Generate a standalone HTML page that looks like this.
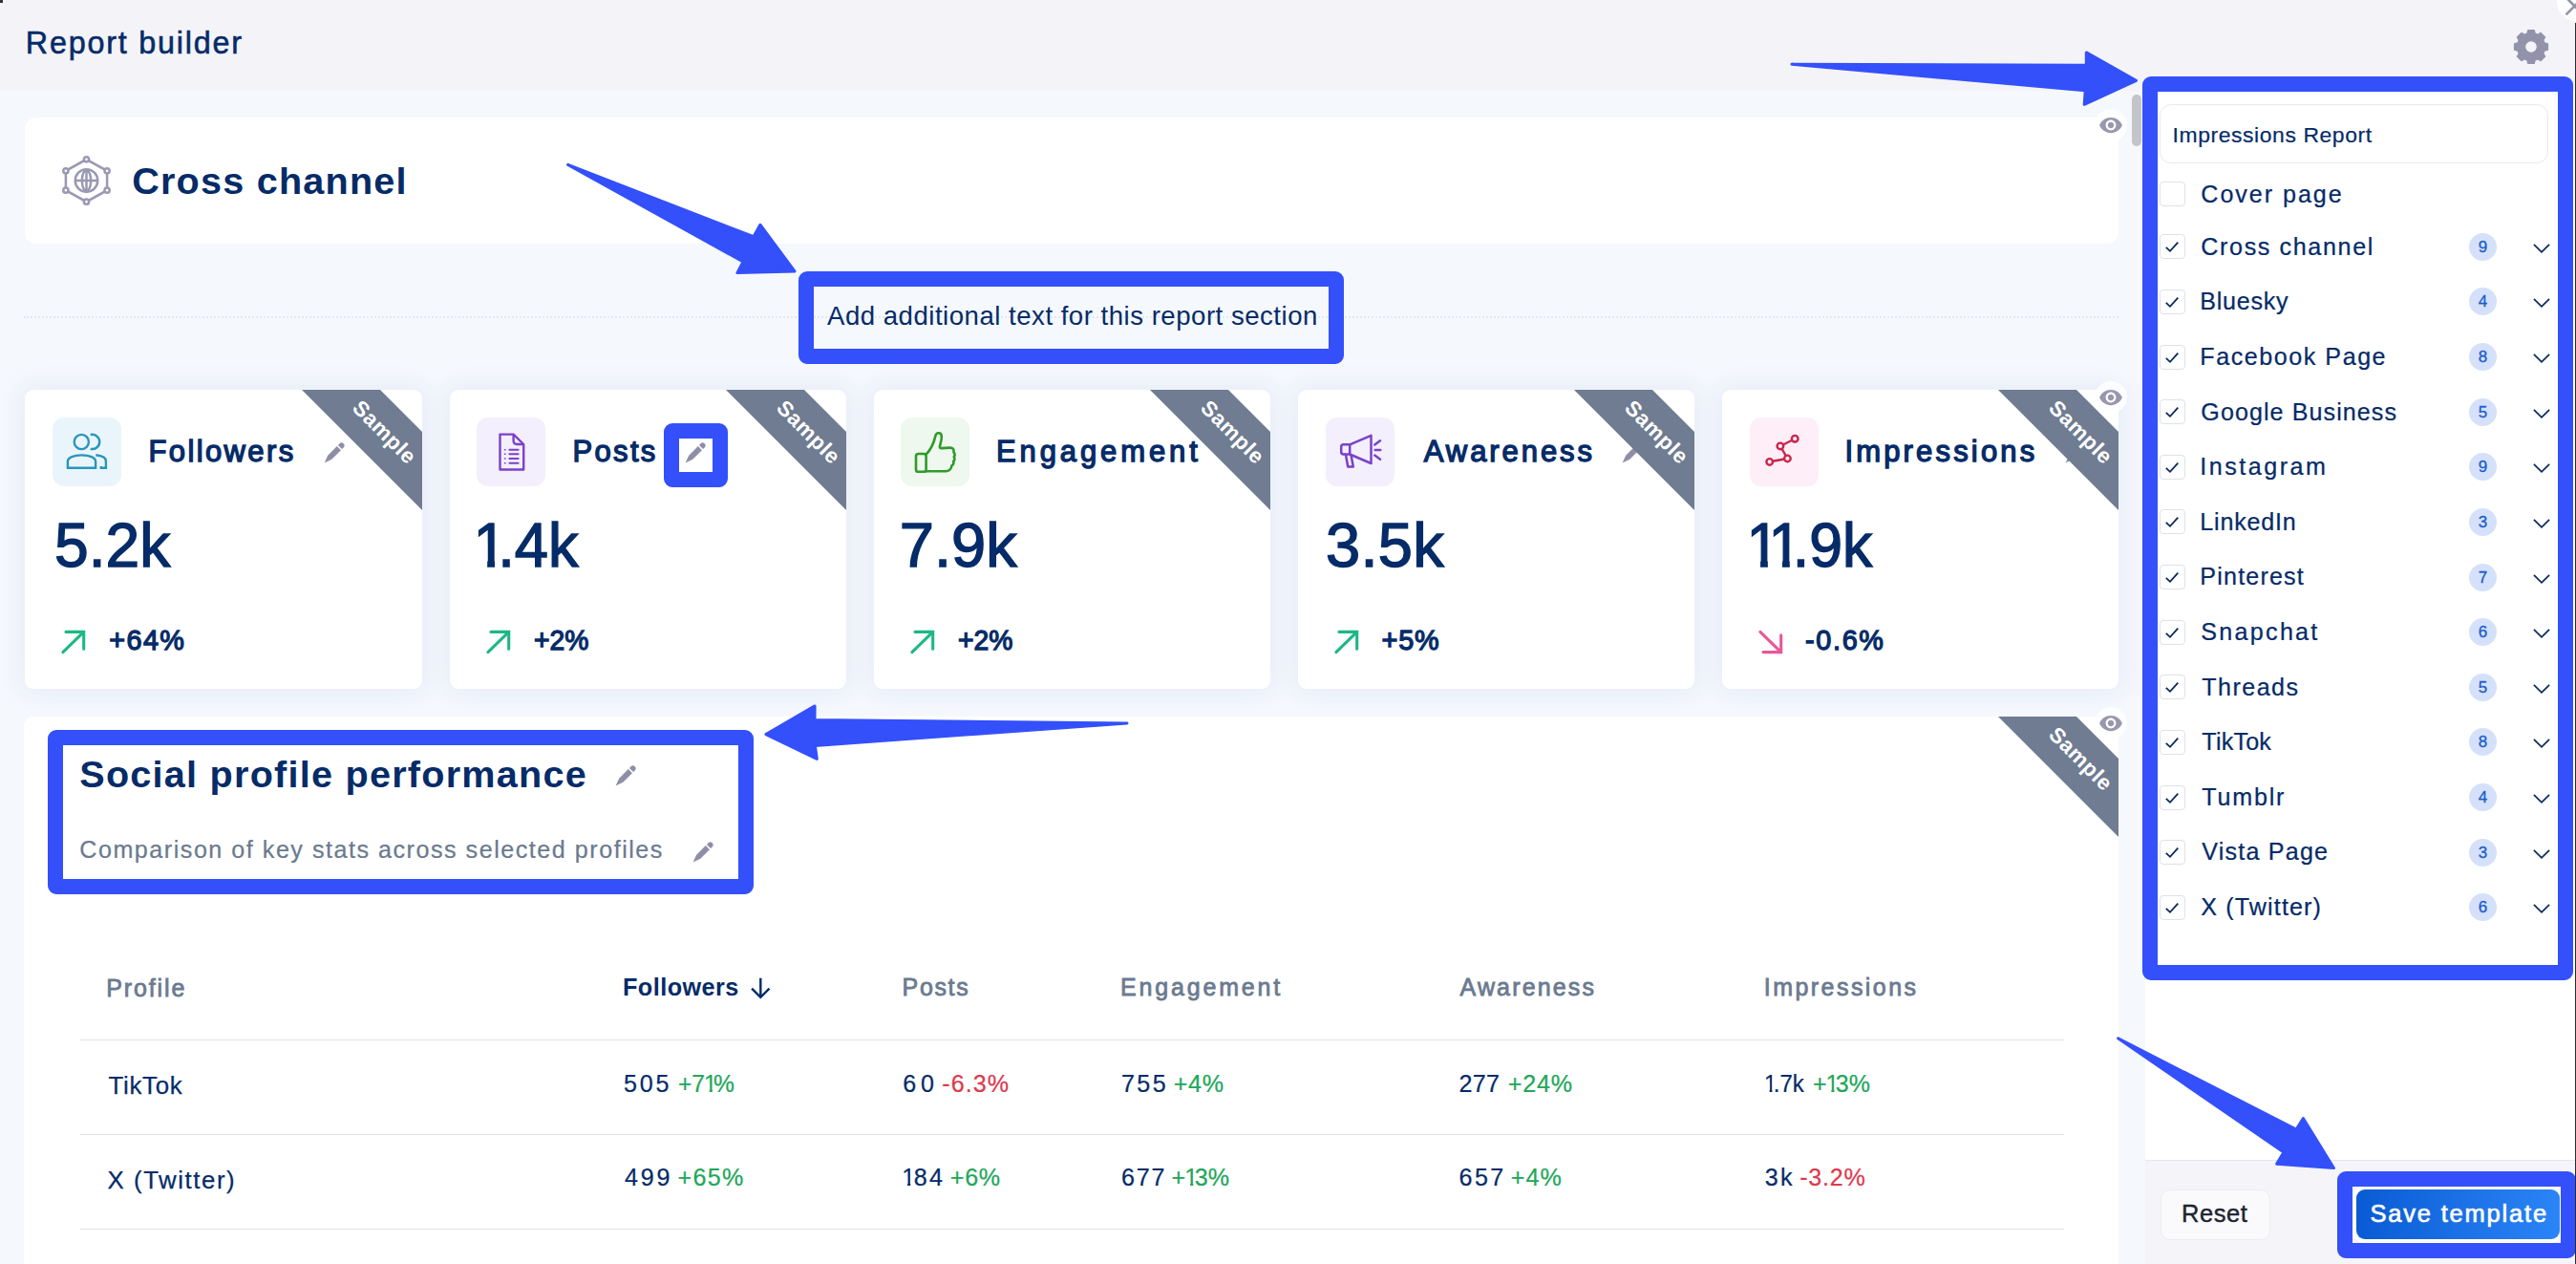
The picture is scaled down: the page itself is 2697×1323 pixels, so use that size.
<!DOCTYPE html>
<html lang="en"><head><meta charset="utf-8"><title>Report builder</title>
<style>
*{box-sizing:border-box}
html,body{margin:0;padding:0}
body{width:2697px;height:1323px;overflow:hidden;position:relative;background:#f5f8fd;font-family:"Liberation Sans",sans-serif}
.t{position:absolute;white-space:nowrap;line-height:1em;font-weight:400;transform-origin:0 50%;margin:0;padding:0;border:0;background:none;font-family:inherit}
.o{display:inline-block;font-weight:inherit;margin:0 -.15em 0 -.04em;clip-path:polygon(0 0,.357em 0,.357em 1em,.233em 1em,.233em .45em,0 .45em)}
.i{position:absolute;overflow:visible}
.abs{position:absolute}
.header{position:absolute;left:0;top:0;width:2697px;height:95px;background:#f4f3f8}
.card{position:absolute;background:#fff;border-radius:9px}
.stat{box-shadow:0 0 26px 3px rgba(196,205,232,.33)}
.eye{position:absolute;width:34px;height:34px;border-radius:50%;background:rgba(255,255,255,.8);display:flex;align-items:center;justify-content:center}
.frame{position:absolute;border:16px solid #3350fb;border-radius:9px}
.side{position:absolute;left:2245.500px;top:94px;width:452px;height:1229px;background:#fff}
.foot{position:absolute;left:2245.500px;top:1214px;width:452px;height:109px;background:#f4f4f9;border-top:1px solid #e6e7ee}
.cb{position:absolute;width:26.400px;height:26px;border:1px solid #dfe1e8;border-radius:4px;background:#fff}
.badge{position:absolute;width:29px;height:29px;border-radius:50%;background:#d5e1fa;color:#1a5ccb;font-size:17px;line-height:29px;text-align:center}
.badge span{display:block;-webkit-text-stroke:.3px #1a5ccb}
.line{position:absolute;left:84px;width:2077px;height:1px;background:#dfe2e8}
</style></head><body>
<header>
<div class="header"></div>
<svg class="i" style="left:2630px;top:29px" width="40" height="40" viewBox="-20 -20 40 40"><path fill="#9293aa" stroke="#9293aa" stroke-width="1.200" stroke-linejoin="round" fill-rule="evenodd" d="M-4.15 -14.00L-3.24 -17.50L3.24 -17.50L4.15 -14.00L6.97 -12.83L10.08 -14.67L14.67 -10.08L12.83 -6.97L14.00 -4.15L17.50 -3.24L17.50 3.24L14.00 4.15L12.83 6.97L14.67 10.08L10.08 14.67L6.97 12.83L4.15 14.00L3.24 17.50L-3.24 17.50L-4.15 14.00L-6.97 12.83L-10.08 14.67L-14.67 10.08L-12.83 6.97L-14.00 4.15L-17.50 3.24L-17.50 -3.24L-14.00 -4.15L-12.83 -6.97L-14.67 -10.08L-10.08 -14.67L-6.97 -12.83Z M6.400 0A6.400 6.400 0 1 0 -6.400 0A6.400 6.400 0 1 0 6.400 0Z"/></svg>
<h1 class="t" style="left:26.80px;top:29.46px;font-size:32.30px;color:#052b68;letter-spacing:1.792px;-webkit-text-stroke:0.57px #052b68;">Report builder</h1>
</header>
<main>
<section class="channel">
<div class="card" style="left:25.600px;top:123.400px;width:2192.600px;height:131.200px;border-radius:12px"></div>
<svg class="i" style="left:65.300px;top:164px" width="51" height="50" viewBox="-25.500 -25 51 50"><g fill="none" stroke="#9a98b2" stroke-width="2.500"><path d="M0 -22.200L21.600 -10.200V10.200L0 22.200L-21.600 10.200V-10.200Z"/><circle cx="0" cy="0" r="11.800"/><path d="M-11.800 0H11.800M0 -11.800V11.800M0 -11.800c-6.200 4-6.200 19.600 0 23.600M0 -11.800c6.200 4 6.200 19.600 0 23.600"/><g fill="#fff"><circle cx="0" cy="-22.200" r="2.600"/><circle cx="21.600" cy="-10.200" r="2.600"/><circle cx="21.600" cy="10.200" r="2.600"/><circle cx="0" cy="22.200" r="2.600"/><circle cx="-21.600" cy="10.200" r="2.600"/><circle cx="-21.600" cy="-10.200" r="2.600"/></g></g></svg>
<div class="abs" style="left:25px;top:331px;width:2193px;height:0;border-top:2px dotted #e4e7ee"></div>
</section>
<section class="stats">
<div class="card stat" style="left:26px;top:408px;width:416px;height:313px"></div>
<svg class="i" style="left:55px;top:437px" width="72" height="72" viewBox="0 0 72 72"><rect width="72" height="72" rx="12" fill="#eaf5fb"/><g fill="none" stroke="#2796be" stroke-width="2.400"><circle cx="30.300" cy="25.500" r="7.600"/><path d="M39.700 18.100a7.600 7.600 0 1 1 0 14.700"/><path d="M15.900 52.700V46c0-4.200 6.500-6.600 14.600-6.600s14.600 2.400 14.600 6.600V52.700z"/><path d="M45.300 39.300c6.500 .6 10.600 2.600 10.600 6.400V52.700H50.800v-1.800"/></g></svg>
<svg class="i" style="left:337.5px;top:462.5px" width="23" height="23" viewBox="0 0 23 23"><g transform="rotate(45 11.5 11.5)" fill="#8f8ea8"><path d="M8.600 0a2.900 2.900 0 0 1 5.800 0v2.300h-5.800z"/><path d="M8.600 3.900h5.800v13.600l-2.900 8-2.900-8z"/></g></svg>
<svg class="i" style="left:316px;top:408px" width="126" height="126" viewBox="0 0 126 126"><path d="M0 0H82L126 44V126Z" fill="#6f7c91"/><text x="0" y="0" transform="translate(81.3 49.8) rotate(45)" text-anchor="middle" font-family="Liberation Sans, sans-serif" font-weight="700" font-size="22.5" letter-spacing="0.6" fill="#fff">Sample</text></svg>
<svg class="i" style="left:62.9px;top:657.6px" width="28" height="28" viewBox="0 0 28 28"><path d="M2.900 24.700L24.700 3.400M6 3.400H24.700V21.200" fill="none" stroke="#1db785" stroke-width="3.100" stroke-linecap="round" stroke-linejoin="miter"/></svg>
<div class="card stat" style="left:471px;top:408px;width:415px;height:313px"></div>
<svg class="i" style="left:499px;top:437px" width="72" height="72" viewBox="0 0 72 72"><rect width="72" height="72" rx="12" fill="#f3effc"/><g fill="none" stroke="#7a42c8" stroke-width="2.400" stroke-linejoin="round"><path d="M24.500 17.600H38.600L49.200 28V54.500H24.500Z"/><path d="M38.600 17.600V24.300c0 2.200 1.500 3.700 3.700 3.700h6.900"/><g stroke-linecap="round"><path stroke-width="2" d="M34.400 33.800h9.200M34.400 38.300h9.200M34.400 43.050h9.200M34.400 47.800h9.200"/><path stroke-width="1.600" d="M29.500 33.800h.5M29.500 38.300h.5M29.500 43.050h.5M29.500 47.800h.5"/></g></g></svg>
<svg class="i" style="left:716.3px;top:462.5px" width="23" height="23" viewBox="0 0 23 23"><g transform="rotate(45 11.5 11.5)" fill="#8f8ea8"><path d="M8.600 0a2.900 2.900 0 0 1 5.800 0v2.300h-5.800z"/><path d="M8.600 3.900h5.800v13.600l-2.900 8-2.900-8z"/></g></svg>
<svg class="i" style="left:760px;top:408px" width="126" height="126" viewBox="0 0 126 126"><path d="M0 0H82L126 44V126Z" fill="#6f7c91"/><text x="0" y="0" transform="translate(81.3 49.8) rotate(45)" text-anchor="middle" font-family="Liberation Sans, sans-serif" font-weight="700" font-size="22.5" letter-spacing="0.6" fill="#fff">Sample</text></svg>
<svg class="i" style="left:507.9px;top:657.6px" width="28" height="28" viewBox="0 0 28 28"><path d="M2.900 24.700L24.700 3.400M6 3.400H24.700V21.200" fill="none" stroke="#1db785" stroke-width="3.100" stroke-linecap="round" stroke-linejoin="miter"/></svg>
<div class="card stat" style="left:915px;top:408px;width:415px;height:313px"></div>
<svg class="i" style="left:943px;top:437px" width="72" height="72" viewBox="0 0 72 72"><rect width="72" height="72" rx="12" fill="#eef8ee"/><g fill="none" stroke="#2f9a2b" stroke-width="2.600" stroke-linejoin="round" stroke-linecap="round"><rect x="16" y="38" width="10.600" height="18.800" rx="2.600"/><path d="M26.600 38.600C31.500 33.500 34.500 27.500 36.300 19.600C37 15.200 42.400 15 42.800 19.400C43.200 23.500 41.600 27.500 40.900 30C40.600 31.400 41.300 32.200 42.800 32.100L51.500 31.600C54.600 31.500 56.300 33.600 55.400 36.200C57 37.500 57 39.900 55.700 41.200C56.900 42.700 56.600 44.900 55.100 46C55.900 47.700 55.100 49.700 53.400 50.400C53.200 53.600 50.900 56.100 47.600 56.200L26.600 56.200"/></g></svg>
<svg class="i" style="left:1204px;top:408px" width="126" height="126" viewBox="0 0 126 126"><path d="M0 0H82L126 44V126Z" fill="#6f7c91"/><text x="0" y="0" transform="translate(81.3 49.8) rotate(45)" text-anchor="middle" font-family="Liberation Sans, sans-serif" font-weight="700" font-size="22.5" letter-spacing="0.6" fill="#fff">Sample</text></svg>
<svg class="i" style="left:951.9px;top:657.6px" width="28" height="28" viewBox="0 0 28 28"><path d="M2.900 24.700L24.700 3.400M6 3.400H24.700V21.200" fill="none" stroke="#1db785" stroke-width="3.100" stroke-linecap="round" stroke-linejoin="miter"/></svg>
<div class="card stat" style="left:1359px;top:408px;width:415px;height:313px"></div>
<svg class="i" style="left:1388px;top:437px" width="72" height="72" viewBox="0 0 72 72"><rect width="72" height="72" rx="12" fill="#f3effc"/><g fill="none" stroke="#7a42c8" stroke-width="2.5" stroke-linejoin="round" stroke-linecap="butt"><path d="M25.2 28.300H18.600c-1.500 0-2.400.9-2.400 2.400v5.400c0 1.500.9 2.400 2.400 2.400h6.600z"/><path d="M25.200 28.300L47.500 18.800V48L25.200 38.500"/><path d="M20.900 38.500L23.200 51.500H28.800L26.500 39.100"/><path d="M51.300 28.400L57 24.300M51.700 33.900H57.200M51.300 39.500L57 43.700" stroke-linecap="round"/></g></svg>
<svg class="i" style="left:1697px;top:462.5px" width="23" height="23" viewBox="0 0 23 23"><g transform="rotate(45 11.5 11.5)" fill="#8f8ea8"><path d="M8.600 0a2.900 2.900 0 0 1 5.800 0v2.300h-5.800z"/><path d="M8.600 3.900h5.800v13.600l-2.900 8-2.900-8z"/></g></svg>
<svg class="i" style="left:1648px;top:408px" width="126" height="126" viewBox="0 0 126 126"><path d="M0 0H82L126 44V126Z" fill="#6f7c91"/><text x="0" y="0" transform="translate(81.3 49.8) rotate(45)" text-anchor="middle" font-family="Liberation Sans, sans-serif" font-weight="700" font-size="22.5" letter-spacing="0.6" fill="#fff">Sample</text></svg>
<svg class="i" style="left:1395.9px;top:657.6px" width="28" height="28" viewBox="0 0 28 28"><path d="M2.900 24.700L24.700 3.400M6 3.400H24.700V21.200" fill="none" stroke="#1db785" stroke-width="3.100" stroke-linecap="round" stroke-linejoin="miter"/></svg>
<div class="card stat" style="left:1803px;top:408px;width:415px;height:313px"></div>
<svg class="i" style="left:1832.3px;top:437px" width="72" height="72" viewBox="0 0 72 72"><rect width="72" height="72" rx="12" fill="#fdeef7"/><g fill="none" stroke="#c8264b" stroke-width="2.4"><circle cx="20.700" cy="46.400" r="3.300"/><circle cx="39.400" cy="42.900" r="3.300"/><circle cx="31.900" cy="29.900" r="3.300"/><circle cx="47.200" cy="22.200" r="3.300"/><path d="M23.900 45.800L36.300 43.500M37.800 40.100L33.500 32.700M34.800 28.500L44.300 23.700"/></g></svg>
<svg class="i" style="left:2161px;top:462.5px" width="23" height="23" viewBox="0 0 23 23"><g transform="rotate(45 11.5 11.5)" fill="#8f8ea8"><path d="M8.600 0a2.900 2.900 0 0 1 5.800 0v2.300h-5.800z"/><path d="M8.600 3.900h5.800v13.600l-2.900 8-2.900-8z"/></g></svg>
<svg class="i" style="left:2092px;top:408px" width="126" height="126" viewBox="0 0 126 126"><path d="M0 0H82L126 44V126Z" fill="#6f7c91"/><text x="0" y="0" transform="translate(81.3 49.8) rotate(45)" text-anchor="middle" font-family="Liberation Sans, sans-serif" font-weight="700" font-size="22.5" letter-spacing="0.6" fill="#fff">Sample</text></svg>
<svg class="i" style="left:1839.9px;top:657.6px" width="28" height="28" viewBox="0 0 28 28"><path d="M2.900 3.300L24.700 24.600M6 24.600H24.700V6.800" fill="none" stroke="#e9569b" stroke-width="3.100" stroke-linecap="round" stroke-linejoin="miter"/></svg>
<h2 class="t" style="left:138.20px;top:169.98px;font-size:39.60px;color:#052b68;letter-spacing:1.217px;font-weight:700;">Cross channel</h2>
<span class="t" style="left:866.00px;top:316.64px;font-size:27.60px;color:#052b68;letter-spacing:0.500px;">Add additional text for this report section</span>
<span class="t" style="left:155.50px;top:457.36px;font-size:31.00px;color:#052b68;letter-spacing:2.375px;-webkit-text-stroke:1.36px #052b68;">Followers</span>
<span class="t" style="left:57.33px;top:538.38px;font-size:65.00px;color:#052b68;-webkit-text-stroke:1.43px #052b68;transform:scaleX(0.9869);">5.2k</span>
<span class="t" style="left:114.20px;top:655.62px;font-size:28.80px;color:#052b68;letter-spacing:1.433px;-webkit-text-stroke:1.27px #052b68;">+64%</span>
<span class="t" style="left:599.60px;top:457.36px;font-size:31.00px;color:#052b68;letter-spacing:2.300px;-webkit-text-stroke:1.36px #052b68;">Posts</span>
<span class="t" style="left:498.48px;top:538.38px;font-size:65.00px;color:#052b68;-webkit-text-stroke:1.43px #052b68;transform:scaleX(0.9725);"><b class="o">1</b>.4k</span>
<span class="t" style="left:558.72px;top:655.62px;font-size:28.80px;color:#052b68;-webkit-text-stroke:1.27px #052b68;transform:scaleX(0.9825);">+2%</span>
<span class="t" style="left:1043.00px;top:457.36px;font-size:31.00px;color:#052b68;letter-spacing:3.889px;-webkit-text-stroke:1.36px #052b68;">Engagement</span>
<span class="t" style="left:941.70px;top:538.38px;font-size:65.00px;color:#052b68;letter-spacing:0.100px;-webkit-text-stroke:1.43px #052b68;">7.9k</span>
<span class="t" style="left:1002.72px;top:655.62px;font-size:28.80px;color:#052b68;-webkit-text-stroke:1.27px #052b68;transform:scaleX(0.9825);">+2%</span>
<span class="t" style="left:1490.80px;top:457.36px;font-size:31.00px;color:#052b68;letter-spacing:2.925px;-webkit-text-stroke:1.36px #052b68;">Awareness</span>
<span class="t" style="left:1388.00px;top:538.38px;font-size:65.00px;color:#052b68;letter-spacing:0.333px;-webkit-text-stroke:1.43px #052b68;">3.5k</span>
<span class="t" style="left:1446.50px;top:655.62px;font-size:28.80px;color:#052b68;letter-spacing:0.850px;-webkit-text-stroke:1.27px #052b68;">+5%</span>
<span class="t" style="left:1931.40px;top:457.36px;font-size:31.00px;color:#052b68;letter-spacing:3.170px;-webkit-text-stroke:1.36px #052b68;">Impressions</span>
<span class="t" style="left:1830.61px;top:538.38px;font-size:65.00px;color:#052b68;-webkit-text-stroke:1.43px #052b68;transform:scaleX(0.9629);"><b class="o">1</b><b class="o">1</b>.9k</span>
<span class="t" style="left:1890.00px;top:655.62px;font-size:28.80px;color:#052b68;letter-spacing:1.675px;-webkit-text-stroke:1.27px #052b68;">-0.6%</span>
</section>
<section class="performance">
<div class="card" style="left:25px;top:749.500px;width:2193px;height:600px"></div>
<svg class="i" style="left:2092px;top:749.5px" width="126" height="126" viewBox="0 0 126 126"><path d="M0 0H82L126 44V126Z" fill="#6f7c91"/><text x="0" y="0" transform="translate(81.3 49.8) rotate(45)" text-anchor="middle" font-family="Liberation Sans, sans-serif" font-weight="700" font-size="22.5" letter-spacing="0.6" fill="#fff">Sample</text></svg>
<div class="line" style="top:1088px"></div><div class="line" style="top:1186.500px"></div><div class="line" style="top:1285.500px"></div>
<svg class="i" style="left:786px;top:1023px" width="21" height="22" viewBox="0 0 21 22"><path d="M10.300 0.800V20.300M1.100 11.600L10.300 20.800L19.500 11.600" fill="none" stroke="#052b68" stroke-width="2.400"/></svg><svg class="i" style="left:643px;top:800.5px" width="23" height="23" viewBox="0 0 23 23"><g transform="rotate(45 11.5 11.5)" fill="#8f8ea8"><path d="M8.600 0a2.900 2.900 0 0 1 5.800 0v2.300h-5.800z"/><path d="M8.600 3.900h5.800v13.600l-2.900 8-2.900-8z"/></g></svg><svg class="i" style="left:724px;top:881px" width="23" height="23" viewBox="0 0 23 23"><g transform="rotate(45 11.5 11.5)" fill="#8f8ea8"><path d="M8.600 0a2.900 2.900 0 0 1 5.800 0v2.300h-5.800z"/><path d="M8.600 3.900h5.800v13.600l-2.900 8-2.900-8z"/></g></svg>
<h2 class="t" style="left:83.30px;top:790.78px;font-size:39.60px;color:#052b68;letter-spacing:1.244px;font-weight:700;">Social profile performance</h2>
<span class="t" style="left:83.30px;top:877.45px;font-size:25.10px;color:#6b7a90;letter-spacing:1.526px;-webkit-text-stroke:0.24px #6b7a90;">Comparison of key stats across selected profiles</span>
<span class="t" style="left:111.30px;top:1021.84px;font-size:25.00px;color:#6b7a90;letter-spacing:1.867px;-webkit-text-stroke:0.80px #6b7a90;">Profile</span>
<span class="t" style="left:652.00px;top:1021.17px;font-size:25.20px;color:#052b68;letter-spacing:0.475px;font-weight:700;">Followers</span>
<span class="t" style="left:944.60px;top:1021.34px;font-size:25.00px;color:#6b7a90;letter-spacing:1.650px;-webkit-text-stroke:0.80px #6b7a90;">Posts</span>
<span class="t" style="left:1173.00px;top:1021.34px;font-size:25.00px;color:#6b7a90;letter-spacing:2.833px;-webkit-text-stroke:0.80px #6b7a90;">Engagement</span>
<span class="t" style="left:1528.50px;top:1021.34px;font-size:25.00px;color:#6b7a90;letter-spacing:2.163px;-webkit-text-stroke:0.80px #6b7a90;">Awareness</span>
<span class="t" style="left:1846.80px;top:1021.34px;font-size:25.00px;color:#6b7a90;letter-spacing:2.450px;-webkit-text-stroke:0.80px #6b7a90;">Impressions</span>
<span class="t" style="left:113.60px;top:1124.16px;font-size:25.80px;color:#052b68;letter-spacing:0.700px;-webkit-text-stroke:0.25px #052b68;">TikTok</span>
<span class="t" style="left:112.60px;top:1222.96px;font-size:25.80px;color:#052b68;letter-spacing:1.550px;-webkit-text-stroke:0.25px #052b68;">X (Twitter)</span>
<span class="t" style="left:653.00px;top:1121.55px;font-size:25.10px;color:#052b68;letter-spacing:2.850px;-webkit-text-stroke:0.24px #052b68;">505</span>
<span class="t" style="left:709.52px;top:1121.55px;font-size:25.10px;color:#22a75a;-webkit-text-stroke:0.24px #22a75a;transform:scaleX(0.9793);">+7<b class="o">1</b>%</span>
<span class="t" style="left:945.30px;top:1121.55px;font-size:25.10px;color:#052b68;letter-spacing:4.700px;-webkit-text-stroke:0.24px #052b68;">60</span>
<span class="t" style="left:986.20px;top:1121.55px;font-size:25.10px;color:#dc3a4e;letter-spacing:1.100px;-webkit-text-stroke:0.24px #dc3a4e;">-6.3%</span>
<span class="t" style="left:1174.00px;top:1121.55px;font-size:25.10px;color:#052b68;letter-spacing:2.400px;-webkit-text-stroke:0.24px #052b68;">755</span>
<span class="t" style="left:1228.70px;top:1121.55px;font-size:25.10px;color:#22a75a;letter-spacing:0.700px;-webkit-text-stroke:0.24px #22a75a;">+4%</span>
<span class="t" style="left:1527.50px;top:1121.55px;font-size:25.10px;color:#052b68;letter-spacing:0.300px;-webkit-text-stroke:0.24px #052b68;">277</span>
<span class="t" style="left:1578.80px;top:1121.55px;font-size:25.10px;color:#22a75a;letter-spacing:0.767px;-webkit-text-stroke:0.24px #22a75a;">+24%</span>
<span class="t" style="left:1847.85px;top:1121.55px;font-size:25.10px;color:#052b68;-webkit-text-stroke:0.24px #052b68;transform:scaleX(0.9548);"><b class="o">1</b>.7k</span>
<span class="t" style="left:1897.81px;top:1121.55px;font-size:25.10px;color:#22a75a;-webkit-text-stroke:0.24px #22a75a;transform:scaleX(0.9948);">+<b class="o">1</b>3%</span>
<span class="t" style="left:654.00px;top:1220.45px;font-size:25.10px;color:#052b68;letter-spacing:2.800px;-webkit-text-stroke:0.24px #052b68;">499</span>
<span class="t" style="left:709.50px;top:1220.45px;font-size:25.10px;color:#22a75a;letter-spacing:1.333px;-webkit-text-stroke:0.24px #22a75a;">+65%</span>
<span class="t" style="left:945.30px;top:1220.45px;font-size:25.10px;color:#052b68;letter-spacing:2.250px;-webkit-text-stroke:0.24px #052b68;"><b class="o">1</b>84</span>
<span class="t" style="left:994.80px;top:1220.45px;font-size:25.10px;color:#22a75a;letter-spacing:0.700px;-webkit-text-stroke:0.24px #22a75a;">+6%</span>
<span class="t" style="left:1174.00px;top:1220.45px;font-size:25.10px;color:#052b68;letter-spacing:1.750px;-webkit-text-stroke:0.24px #052b68;">677</span>
<span class="t" style="left:1226.50px;top:1220.45px;font-size:25.10px;color:#22a75a;letter-spacing:0.167px;-webkit-text-stroke:0.24px #22a75a;">+<b class="o">1</b>3%</span>
<span class="t" style="left:1527.50px;top:1220.45px;font-size:25.10px;color:#052b68;letter-spacing:2.450px;-webkit-text-stroke:0.24px #052b68;">657</span>
<span class="t" style="left:1581.80px;top:1220.45px;font-size:25.10px;color:#22a75a;letter-spacing:1.100px;-webkit-text-stroke:0.24px #22a75a;">+4%</span>
<span class="t" style="left:1847.80px;top:1220.45px;font-size:25.10px;color:#052b68;letter-spacing:2.300px;-webkit-text-stroke:0.24px #052b68;">3k</span>
<span class="t" style="left:1884.20px;top:1220.45px;font-size:25.10px;color:#dc3a4e;letter-spacing:0.750px;-webkit-text-stroke:0.24px #dc3a4e;">-3.2%</span>
</section>
<div class="abs" style="left:2232px;top:99px;width:10px;height:54px;border-radius:5px;background:#c4c5c9"></div>
<div class="eye" style="left:2192.6px;top:113.8px"><svg width="26" height="26" viewBox="0 0 24 24"><path fill="#9897ad" d="M12 4.5C7 4.5 2.73 7.61 1 12c1.73 4.39 6 7.5 11 7.5s9.27-3.11 11-7.5c-1.73-4.39-6-7.5-11-7.5zM12 17c-2.76 0-5-2.24-5-5s2.24-5 5-5 5 2.24 5 5-2.24 5-5 5zm0-8c-1.66 0-3 1.34-3 3s1.34 3 3 3 3-1.34 3-3-1.34-3-3-3z"/></svg></div><div class="eye" style="left:2192.6px;top:398.5px"><svg width="26" height="26" viewBox="0 0 24 24"><path fill="#9897ad" d="M12 4.5C7 4.5 2.73 7.61 1 12c1.73 4.39 6 7.5 11 7.5s9.27-3.11 11-7.5c-1.73-4.39-6-7.5-11-7.5zM12 17c-2.76 0-5-2.24-5-5s2.24-5 5-5 5 2.24 5 5-2.24 5-5 5zm0-8c-1.66 0-3 1.34-3 3s1.34 3 3 3 3-1.34 3-3-1.34-3-3-3z"/></svg></div><div class="eye" style="left:2192.6px;top:740px"><svg width="26" height="26" viewBox="0 0 24 24"><path fill="#9897ad" d="M12 4.5C7 4.5 2.73 7.61 1 12c1.73 4.39 6 7.5 11 7.5s9.27-3.11 11-7.5c-1.73-4.39-6-7.5-11-7.5zM12 17c-2.76 0-5-2.24-5-5s2.24-5 5-5 5 2.24 5 5-2.24 5-5 5zm0-8c-1.66 0-3 1.34-3 3s1.34 3 3 3 3-1.34 3-3-1.34-3-3-3z"/></svg></div>
</main>
<aside>
<div class="side"></div><div class="foot"></div>
<div class="abs" style="left:2261px;top:109.200px;width:406.700px;height:61.600px;border:1px solid #e8e9ee;border-radius:12px;background:#fff"></div>
<div class="cb" style="left:2261.300px;top:190.400px"></div>
<div class="cb" style="left:2261.300px;top:245.3px"><svg width="26" height="26" viewBox="0 0 26 26" style="position:absolute;left:-1px;top:-1px"><path d="M6.800 13.800L11 17.800L19.300 8.600" fill="none" stroke="#0b2a5c" stroke-width="1.800"/></svg></div>
<div class="badge" style="left:2585px;top:243.8px"><span>9</span></div>
<svg class="i" style="left:2650px;top:252.8px" width="22" height="14" viewBox="0 0 22 14"><path d="M2.900 2.900L11 10.900L19.100 2.900" fill="none" stroke="#0b2a5c" stroke-width="1.700"/></svg>
<div class="cb" style="left:2261.300px;top:302.9px"><svg width="26" height="26" viewBox="0 0 26 26" style="position:absolute;left:-1px;top:-1px"><path d="M6.800 13.800L11 17.800L19.300 8.600" fill="none" stroke="#0b2a5c" stroke-width="1.800"/></svg></div>
<div class="badge" style="left:2585px;top:301.4px"><span>4</span></div>
<svg class="i" style="left:2650px;top:310.4px" width="22" height="14" viewBox="0 0 22 14"><path d="M2.900 2.900L11 10.900L19.100 2.900" fill="none" stroke="#0b2a5c" stroke-width="1.700"/></svg>
<div class="cb" style="left:2261.300px;top:360.5px"><svg width="26" height="26" viewBox="0 0 26 26" style="position:absolute;left:-1px;top:-1px"><path d="M6.800 13.800L11 17.800L19.300 8.600" fill="none" stroke="#0b2a5c" stroke-width="1.800"/></svg></div>
<div class="badge" style="left:2585px;top:359.0px"><span>8</span></div>
<svg class="i" style="left:2650px;top:368.0px" width="22" height="14" viewBox="0 0 22 14"><path d="M2.900 2.900L11 10.900L19.100 2.900" fill="none" stroke="#0b2a5c" stroke-width="1.700"/></svg>
<div class="cb" style="left:2261.300px;top:418.2px"><svg width="26" height="26" viewBox="0 0 26 26" style="position:absolute;left:-1px;top:-1px"><path d="M6.800 13.800L11 17.800L19.300 8.600" fill="none" stroke="#0b2a5c" stroke-width="1.800"/></svg></div>
<div class="badge" style="left:2585px;top:416.7px"><span>5</span></div>
<svg class="i" style="left:2650px;top:425.7px" width="22" height="14" viewBox="0 0 22 14"><path d="M2.900 2.900L11 10.900L19.100 2.900" fill="none" stroke="#0b2a5c" stroke-width="1.700"/></svg>
<div class="cb" style="left:2261.300px;top:475.8px"><svg width="26" height="26" viewBox="0 0 26 26" style="position:absolute;left:-1px;top:-1px"><path d="M6.800 13.800L11 17.800L19.300 8.600" fill="none" stroke="#0b2a5c" stroke-width="1.800"/></svg></div>
<div class="badge" style="left:2585px;top:474.3px"><span>9</span></div>
<svg class="i" style="left:2650px;top:483.3px" width="22" height="14" viewBox="0 0 22 14"><path d="M2.900 2.900L11 10.900L19.100 2.900" fill="none" stroke="#0b2a5c" stroke-width="1.700"/></svg>
<div class="cb" style="left:2261.300px;top:533.4px"><svg width="26" height="26" viewBox="0 0 26 26" style="position:absolute;left:-1px;top:-1px"><path d="M6.800 13.800L11 17.800L19.300 8.600" fill="none" stroke="#0b2a5c" stroke-width="1.800"/></svg></div>
<div class="badge" style="left:2585px;top:531.9px"><span>3</span></div>
<svg class="i" style="left:2650px;top:540.9px" width="22" height="14" viewBox="0 0 22 14"><path d="M2.900 2.900L11 10.900L19.100 2.900" fill="none" stroke="#0b2a5c" stroke-width="1.700"/></svg>
<div class="cb" style="left:2261.300px;top:591.0px"><svg width="26" height="26" viewBox="0 0 26 26" style="position:absolute;left:-1px;top:-1px"><path d="M6.800 13.800L11 17.800L19.300 8.600" fill="none" stroke="#0b2a5c" stroke-width="1.800"/></svg></div>
<div class="badge" style="left:2585px;top:589.5px"><span>7</span></div>
<svg class="i" style="left:2650px;top:598.5px" width="22" height="14" viewBox="0 0 22 14"><path d="M2.900 2.900L11 10.900L19.100 2.900" fill="none" stroke="#0b2a5c" stroke-width="1.700"/></svg>
<div class="cb" style="left:2261.300px;top:648.6px"><svg width="26" height="26" viewBox="0 0 26 26" style="position:absolute;left:-1px;top:-1px"><path d="M6.800 13.800L11 17.800L19.300 8.600" fill="none" stroke="#0b2a5c" stroke-width="1.800"/></svg></div>
<div class="badge" style="left:2585px;top:647.1px"><span>6</span></div>
<svg class="i" style="left:2650px;top:656.1px" width="22" height="14" viewBox="0 0 22 14"><path d="M2.900 2.900L11 10.900L19.100 2.900" fill="none" stroke="#0b2a5c" stroke-width="1.700"/></svg>
<div class="cb" style="left:2261.300px;top:706.3px"><svg width="26" height="26" viewBox="0 0 26 26" style="position:absolute;left:-1px;top:-1px"><path d="M6.800 13.800L11 17.800L19.300 8.600" fill="none" stroke="#0b2a5c" stroke-width="1.800"/></svg></div>
<div class="badge" style="left:2585px;top:704.8px"><span>5</span></div>
<svg class="i" style="left:2650px;top:713.8px" width="22" height="14" viewBox="0 0 22 14"><path d="M2.900 2.900L11 10.900L19.100 2.900" fill="none" stroke="#0b2a5c" stroke-width="1.700"/></svg>
<div class="cb" style="left:2261.300px;top:763.9px"><svg width="26" height="26" viewBox="0 0 26 26" style="position:absolute;left:-1px;top:-1px"><path d="M6.800 13.800L11 17.800L19.300 8.600" fill="none" stroke="#0b2a5c" stroke-width="1.800"/></svg></div>
<div class="badge" style="left:2585px;top:762.4px"><span>8</span></div>
<svg class="i" style="left:2650px;top:771.4px" width="22" height="14" viewBox="0 0 22 14"><path d="M2.900 2.900L11 10.900L19.100 2.900" fill="none" stroke="#0b2a5c" stroke-width="1.700"/></svg>
<div class="cb" style="left:2261.300px;top:821.5px"><svg width="26" height="26" viewBox="0 0 26 26" style="position:absolute;left:-1px;top:-1px"><path d="M6.800 13.800L11 17.800L19.300 8.600" fill="none" stroke="#0b2a5c" stroke-width="1.800"/></svg></div>
<div class="badge" style="left:2585px;top:820.0px"><span>4</span></div>
<svg class="i" style="left:2650px;top:829.0px" width="22" height="14" viewBox="0 0 22 14"><path d="M2.900 2.900L11 10.900L19.100 2.900" fill="none" stroke="#0b2a5c" stroke-width="1.700"/></svg>
<div class="cb" style="left:2261.300px;top:879.1px"><svg width="26" height="26" viewBox="0 0 26 26" style="position:absolute;left:-1px;top:-1px"><path d="M6.800 13.800L11 17.800L19.300 8.600" fill="none" stroke="#0b2a5c" stroke-width="1.800"/></svg></div>
<div class="badge" style="left:2585px;top:877.6px"><span>3</span></div>
<svg class="i" style="left:2650px;top:886.6px" width="22" height="14" viewBox="0 0 22 14"><path d="M2.900 2.900L11 10.900L19.100 2.900" fill="none" stroke="#0b2a5c" stroke-width="1.700"/></svg>
<div class="cb" style="left:2261.300px;top:936.7px"><svg width="26" height="26" viewBox="0 0 26 26" style="position:absolute;left:-1px;top:-1px"><path d="M6.800 13.800L11 17.800L19.300 8.600" fill="none" stroke="#0b2a5c" stroke-width="1.800"/></svg></div>
<div class="badge" style="left:2585px;top:935.2px"><span>6</span></div>
<svg class="i" style="left:2650px;top:944.2px" width="22" height="14" viewBox="0 0 22 14"><path d="M2.900 2.900L11 10.900L19.100 2.900" fill="none" stroke="#0b2a5c" stroke-width="1.700"/></svg>
<div class="abs" style="left:2262.300px;top:1244.500px;width:114.300px;height:53.300px;border:1px solid #ececf2;border-radius:10px;background:#fafafc"></div>
<div class="abs" style="left:2467px;top:1244.800px;width:212.800px;height:52.100px;border-radius:9px;background:linear-gradient(90deg,#0a5bd3,#2b85f7);box-shadow:0 0 0 4px #fff"></div>
<span class="t" style="left:2274.60px;top:129.62px;font-size:22.90px;color:#052b68;letter-spacing:0.588px;-webkit-text-stroke:0.22px #052b68;">Impressions Report</span>
<span class="t" style="left:2304.30px;top:190.75px;font-size:25.10px;color:#052b68;letter-spacing:1.967px;-webkit-text-stroke:0.24px #052b68;">Cover page</span>
<h2 class="t" style="left:2304.30px;top:245.65px;font-size:25.10px;color:#052b68;letter-spacing:1.633px;-webkit-text-stroke:0.24px #052b68;">Cross channel</h2>
<span class="t" style="left:2303.30px;top:303.27px;font-size:25.10px;color:#052b68;letter-spacing:0.750px;-webkit-text-stroke:0.24px #052b68;">Bluesky</span>
<span class="t" style="left:2303.30px;top:360.89px;font-size:25.10px;color:#052b68;letter-spacing:1.542px;-webkit-text-stroke:0.24px #052b68;">Facebook Page</span>
<span class="t" style="left:2304.30px;top:418.51px;font-size:25.10px;color:#052b68;letter-spacing:1.071px;-webkit-text-stroke:0.24px #052b68;">Google Business</span>
<span class="t" style="left:2303.30px;top:476.13px;font-size:25.10px;color:#052b68;letter-spacing:2.500px;-webkit-text-stroke:0.24px #052b68;">Instagram</span>
<span class="t" style="left:2303.30px;top:533.75px;font-size:25.10px;color:#052b68;letter-spacing:0.786px;-webkit-text-stroke:0.24px #052b68;">LinkedIn</span>
<span class="t" style="left:2303.30px;top:591.37px;font-size:25.10px;color:#052b68;letter-spacing:1.188px;-webkit-text-stroke:0.24px #052b68;">Pinterest</span>
<span class="t" style="left:2304.30px;top:648.99px;font-size:25.10px;color:#052b68;letter-spacing:2.286px;-webkit-text-stroke:0.24px #052b68;">Snapchat</span>
<span class="t" style="left:2305.30px;top:706.61px;font-size:25.10px;color:#052b68;letter-spacing:1.433px;-webkit-text-stroke:0.24px #052b68;">Threads</span>
<span class="t" style="left:2305.30px;top:764.23px;font-size:25.10px;color:#052b68;letter-spacing:0.200px;-webkit-text-stroke:0.24px #052b68;">TikTok</span>
<span class="t" style="left:2305.30px;top:821.85px;font-size:25.10px;color:#052b68;letter-spacing:1.800px;-webkit-text-stroke:0.24px #052b68;">Tumblr</span>
<span class="t" style="left:2305.30px;top:879.47px;font-size:25.10px;color:#052b68;letter-spacing:1.200px;-webkit-text-stroke:0.24px #052b68;">Vista Page</span>
<span class="t" style="left:2304.30px;top:937.09px;font-size:25.10px;color:#052b68;letter-spacing:1.130px;-webkit-text-stroke:0.24px #052b68;">X (Twitter)</span>
<button class="t" style="left:2284.10px;top:1257.61px;font-size:25.50px;color:#1d2330;letter-spacing:0.550px;-webkit-text-stroke:0.41px #1d2330;">Reset</button>
<button class="t" style="left:2481.40px;top:1257.61px;font-size:25.50px;color:#ffffff;letter-spacing:1.808px;-webkit-text-stroke:0.65px #ffffff;">Save template</button>
</aside>
<div class="annotations">
<div class="frame" style="left:2243px;top:80px;width:451px;height:946px"></div>
<div class="frame" style="left:835.800px;top:284px;width:571px;height:96.500px"></div>
<div class="frame" style="left:695px;top:443px;width:67px;height:67px"></div>
<div class="frame" style="left:50.300px;top:764px;width:739px;height:172px"></div>
<div class="frame" style="left:2447.400px;top:1226px;width:249.600px;height:90.600px"></div>
<svg class="i" style="left:0;top:0" width="2697" height="1323" viewBox="0 0 2697 1323"><g fill="#3350fb" stroke="#3350fb" stroke-width="3" stroke-linejoin="round">
<path d="M594.600 172.400L789 247.700L795.900 235.200L832 284L771.900 285.600L778 274Z"/>
<path d="M1876 67.200L2184.300 68.200V54.900L2236.500 84.300L2182.200 109.300L2183.200 94.800Z"/>
<path d="M1180 757L853 753.600L853.100 738.900L801.900 768.600L855.300 794.300L853.400 780.400Z"/>
<path d="M2217.600 1086.800L2404 1182.200L2411.400 1170.500L2443.400 1222.600L2383.600 1218.200L2391 1206Z"/>
</g></svg>
</div>
<div class="abs" style="left:2696px;top:24px;width:1px;height:1299px;background:#2a2a30"></div>
<div class="abs" style="left:2677px;top:-21px;width:44px;height:44px;border-radius:50%;background:#fff"></div>
<svg class="i" style="left:2680px;top:-6px" width="24" height="24" viewBox="0 0 24 24"><path d="M6.500 21.300L24.500 3.300M6.500 3.300L24.500 21.300" stroke="#9293aa" stroke-width="2.600" fill="none"/></svg>
<div class="abs" style="left:-3px;top:-3px;width:6px;height:6px;background:#333"></div>
</body></html>
